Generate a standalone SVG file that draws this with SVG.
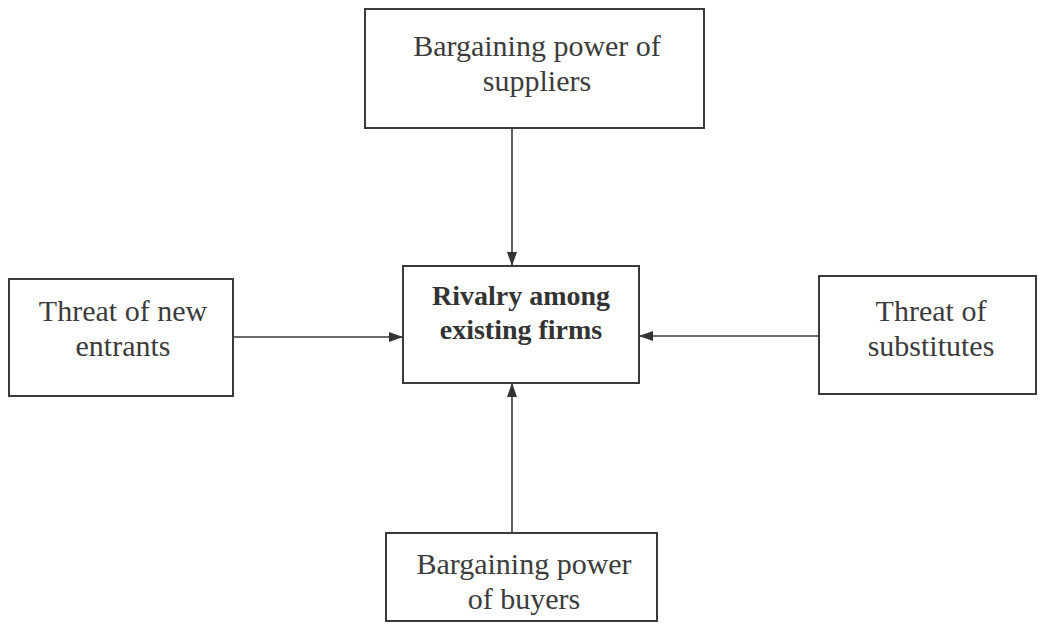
<svg xmlns="http://www.w3.org/2000/svg" width="1046" height="626" viewBox="0 0 1046 626">
<style>
.box{fill:none;stroke:#3a3a3a;stroke-width:2}
.t{font-family:"Liberation Serif","Times New Roman",serif;font-size:30px;fill:#3c3c3c;text-anchor:middle}
.b{font-family:"Liberation Serif","Times New Roman",serif;font-size:28px;font-weight:bold;fill:#333;text-anchor:middle}
.c{stroke:#3a3a3a;stroke-width:1.6;fill:none;marker-end:url(#ah)}
</style>
<defs>
<marker id="ah" markerWidth="14" markerHeight="10" refX="13" refY="5" orient="auto" markerUnits="userSpaceOnUse">
<path d="M0,0 L14,5 L0,10 Z" fill="#333"/>
</marker>
</defs>
<rect width="1046" height="626" fill="#fff"/>
<g id="connectors">
<line class="c" x1="512" y1="128" x2="512" y2="265"/>
<line class="c" x1="233" y1="337" x2="402" y2="337"/>
<line class="c" x1="819" y1="336" x2="640" y2="336"/>
<line class="c" x1="512" y1="533" x2="512" y2="384"/>
</g>
<g id="suppliers">
<rect class="box" x="365" y="9" width="339" height="119"/>
<text class="t" x="537" y="56">Bargaining power of</text>
<text class="t" x="537" y="91">suppliers</text>
</g>
<g id="rivalry">
<rect class="box" x="403" y="266" width="236" height="117"/>
<text class="b" x="521" y="305">Rivalry among</text>
<text class="b" x="521" y="339">existing firms</text>
</g>
<g id="entrants">
<rect class="box" x="9" y="279" width="224" height="117"/>
<text class="t" x="123" y="321">Threat of new</text>
<text class="t" x="123" y="356">entrants</text>
</g>
<g id="substitutes">
<rect class="box" x="819" y="276" width="217" height="118"/>
<text class="t" x="931" y="321">Threat of</text>
<text class="t" x="931" y="356">substitutes</text>
</g>
<g id="buyers">
<rect class="box" x="386" y="533" width="271" height="88"/>
<text class="t" x="524" y="574">Bargaining power</text>
<text class="t" x="524" y="609">of buyers</text>
</g>
</svg>
